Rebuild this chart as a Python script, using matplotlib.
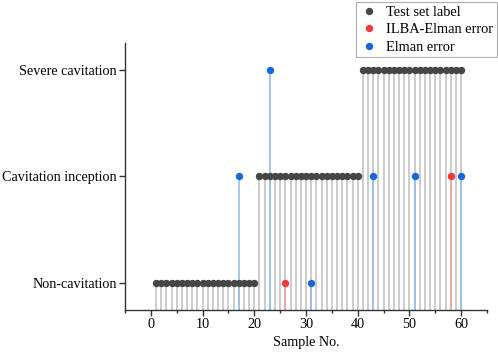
import matplotlib
matplotlib.use("Agg")
import matplotlib.pyplot as plt

# true class of every test sample (1 = non-cavitation, 2 = inception, 3 = severe)
samples = list(range(1, 61))
labels = [1] * 20 + [2] * 20 + [3] * 20

# misclassified samples
ilba_x = [26, 58]
ilba_y = [1, 2]
elman_x = [17, 23, 31, 43, 51, 60]
elman_y = [2, 3, 1, 2, 2, 2]

class_names = ["Non-cavitation", "Cavitation inception", "Severe cavitation"]
class_levels = [1, 2, 3]

plt.rcParams["font.family"] = ["Liberation Serif", "DejaVu Serif"]
plt.rcParams["font.size"] = 10.2

fig = plt.figure(figsize=(4.98, 3.54), dpi=100)
ax = fig.add_axes([0.251, 0.124, 0.727, 0.755])

base = 0.75
ax.vlines(samples, base, labels, colors="#c4c4c4", lw=1.2, zorder=1)
ax.vlines(elman_x, base, elman_y, colors="#94bdf2", lw=1.2, zorder=2)
ax.vlines(ilba_x, base, ilba_y, colors="#f5a3a3", lw=1.2, zorder=2)

ax.plot(samples, labels, "o", color="#464646", ms=4.3, ls="none",
        label="Test set label", zorder=3)
ax.plot(ilba_x, ilba_y, "o", color="#f03a3a", ms=4.3, ls="none",
        label="ILBA-Elman error", zorder=4)
ax.plot(elman_x, elman_y, "o", color="#1767e0", ms=4.3, ls="none",
        label="Elman error", zorder=4)

ax.set_xlim(-5, 65)
ax.set_ylim(base, 3.25)
ax.set_xticks(range(0, 61, 10))
ax.set_xticks(range(-5, 66, 10), minor=True)
ax.set_yticks(class_levels)
ax.set_yticklabels(class_names)
ax.set_xlabel("Sample No.", labelpad=3)

for side in ("top", "right"):
    ax.spines[side].set_visible(False)
for side in ("left", "bottom"):
    ax.spines[side].set_color("#333333")
    ax.spines[side].set_linewidth(1.0)
ax.tick_params(axis="both", which="major", length=4, width=1.0, color="#333333", pad=2)
ax.tick_params(axis="x", which="minor", length=2.5, width=1.0, color="#333333")

leg = fig.legend(loc="upper right", bbox_to_anchor=(0.998, 0.994), frameon=True,
                 fancybox=False, edgecolor="#999999", handletextpad=0.55,
                 borderpad=0.25, borderaxespad=0, labelspacing=0.3,
                 handlelength=1.3, fontsize=10.4)
leg.get_frame().set_linewidth(0.8)

fig.savefig("out.png", dpi=100)
